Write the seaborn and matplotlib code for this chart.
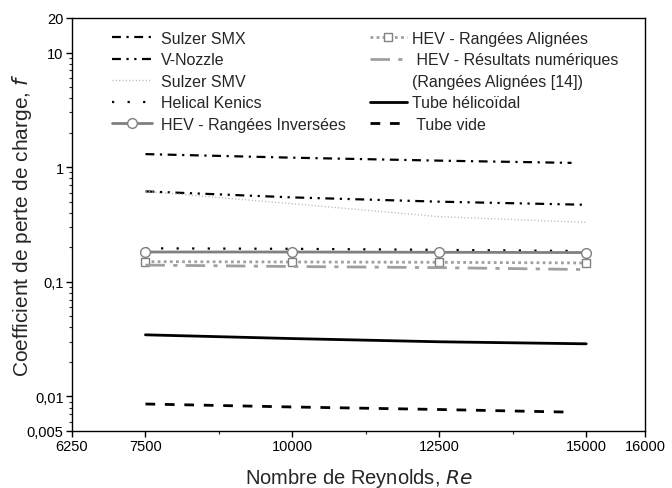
import matplotlib
matplotlib.use("Agg")
import matplotlib.pyplot as plt
import matplotlib.ticker as mticker
from matplotlib.lines import Line2D
import seaborn as sns
import pandas as pd

re_pts = [7500, 10000, 12500, 15000]
re_short = [7500, 10000, 12500, 14750]

sulzer_smx = [1.30, 1.21, 1.14, 1.09]
v_nozzle = [0.615, 0.545, 0.50, 0.47]
sulzer_smv = [0.615, 0.48, 0.37, 0.33]
helical_kenics = [0.196, 0.194, 0.190, 0.186]
hev_inversees = [0.182, 0.182, 0.181, 0.180]
hev_alignees = [0.150, 0.149, 0.148, 0.146]
hev_numerique = [0.140, 0.136, 0.133, 0.128]
tube_helicoidal = [0.0345, 0.0320, 0.0300, 0.0288]
tube_vide = [0.0086, 0.0081, 0.0077, 0.0073]

x_ticks = [6250, 7500, 10000, 12500, 15000, 16000]
y_ticks = [0.005, 0.01, 0.1, 1, 10, 20]
y_tick_labels = ["0,005", "0,01", "0,1", "1", "10", "20"]

sns.set_style("ticks")
plt.rcParams['font.family'] = ['Liberation Sans', 'DejaVu Sans']

W, H = 672, 489
left_px, right_px, top_px, bottom_px = 72, 645, 19, 432
fig = plt.figure(figsize=(6.72, 4.89), dpi=100)
ax = fig.add_axes([left_px / W, 1 - bottom_px / H,
                   (right_px - left_px) / W, (bottom_px - top_px) / H])

series = [
    ("Sulzer SMX", re_short, sulzer_smx, dict(color="black", lw=1.6, dashes=(4, 2.5, 1, 2.5)), None),
    ("V-Nozzle", re_pts, v_nozzle, dict(color="black", lw=1.6, dashes=(4, 2.5, 1, 2.5, 1, 2.5)), None),
    ("Sulzer SMV", re_pts, sulzer_smv, dict(color="#b8b8b8", lw=1.0, dashes=(0.8, 1.6)), None),
    ("Helical Kenics", re_short, helical_kenics, dict(color="black", lw=1.6, dashes=(1, 6)), None),
    ("HEV - Rangées Inversées", re_pts, hev_inversees, dict(color="#808080", lw=2.0), "o"),
    ("HEV - Rangées Alignées", re_pts, hev_alignees, dict(color="#a0a0a0", lw=2.0, dashes=(1, 1.2)), "s"),
    (" HEV - Résultats numériques", re_pts, hev_numerique, dict(color="#a0a0a0", lw=2.0, dashes=(7, 3, 1.5, 3)), None),
    ("Tube hélicoïdal", re_pts, tube_helicoidal, dict(color="black", lw=2.0), None),
    (" Tube vide", re_short, tube_vide, dict(color="black", lw=2.0, dashes=(3.5, 3.5)), None),
]

handles = []
for name, xs, ys, style, marker in series:
    df = pd.DataFrame({"Re": xs, "f": ys})
    kw = dict(style)
    dashes = kw.pop("dashes", None)
    sns.lineplot(data=df, x="Re", y="f", ax=ax, label=name, legend=False, **kw)
    line = ax.lines[-1]
    if dashes is not None:
        line.set_dashes(dashes)
    if marker is not None:
        line.set_marker(marker)
        line.set_markerfacecolor("white")
        line.set_markeredgecolor("#808080")
        line.set_markersize(7 if marker == "o" else 6)
        line.set_markeredgewidth(1.0)
    handles.append(line)

ax.set_yscale("log")
ax.set_xlim(6250, 16000)
ax.set_ylim(0.005, 20)
ax.set_xticks(x_ticks)
ax.set_xticklabels([str(t) for t in x_ticks])
ax.xaxis.set_minor_locator(mticker.FixedLocator([8750, 11250, 13750]))
ax.yaxis.set_major_locator(mticker.FixedLocator(y_ticks))
ax.yaxis.set_major_formatter(mticker.FixedFormatter(y_tick_labels))
ax.yaxis.set_minor_locator(mticker.LogLocator(base=10, subs=range(2, 10)))
ax.yaxis.set_minor_formatter(mticker.NullFormatter())
ax.tick_params(axis="both", which="major", direction="out", length=4, width=1,
               labelsize=10.5, colors="black", pad=2)
ax.tick_params(axis="both", which="minor", direction="out", length=2.5, width=0.8)
ax.tick_params(top=False, right=False, which="both")
for s in ax.spines.values():
    s.set_visible(True)
    s.set_linewidth(1.0)
    s.set_color("black")

ax_h = bottom_px - top_px
ax.set_xlabel("Nombre de Reynolds, $\\it{Re}$", fontsize=14.5)
ax.xaxis.label.set_va("baseline")
ax.xaxis.set_label_coords(0.5, ((H - 484) - (H - bottom_px)) / ax_h)
ax.set_ylabel("Coefficient de perte de charge, $\\it{f}$", fontsize=15)
ax.yaxis.set_label_coords((34 - left_px) / (right_px - left_px), 0.5)

leg1 = fig.legend(handles=handles[:5], loc="upper left",
                  bbox_to_anchor=(112 / W, 1 - 32 / H), frameon=False,
                  fontsize=11.5, handlelength=2.5, handletextpad=0.55,
                  labelspacing=0.4, borderpad=0, borderaxespad=0)

blank = Line2D([], [], color="none")
leg2_handles = [handles[5], handles[6], blank, handles[7], handles[8]]
leg2_labels = ["HEV - Rangées Alignées", " HEV - Résultats numériques",
               "(Rangées Alignées [14])", "Tube hélicoïdal", " Tube vide"]
leg2 = fig.legend(handles=leg2_handles, labels=leg2_labels, loc="upper left",
                  bbox_to_anchor=(370 / W, 1 - 32 / H), frameon=False,
                  fontsize=11.5, handlelength=2.3, handletextpad=0.3,
                  labelspacing=0.4, borderpad=0, borderaxespad=0)

fig.savefig("out.png", dpi=100)
